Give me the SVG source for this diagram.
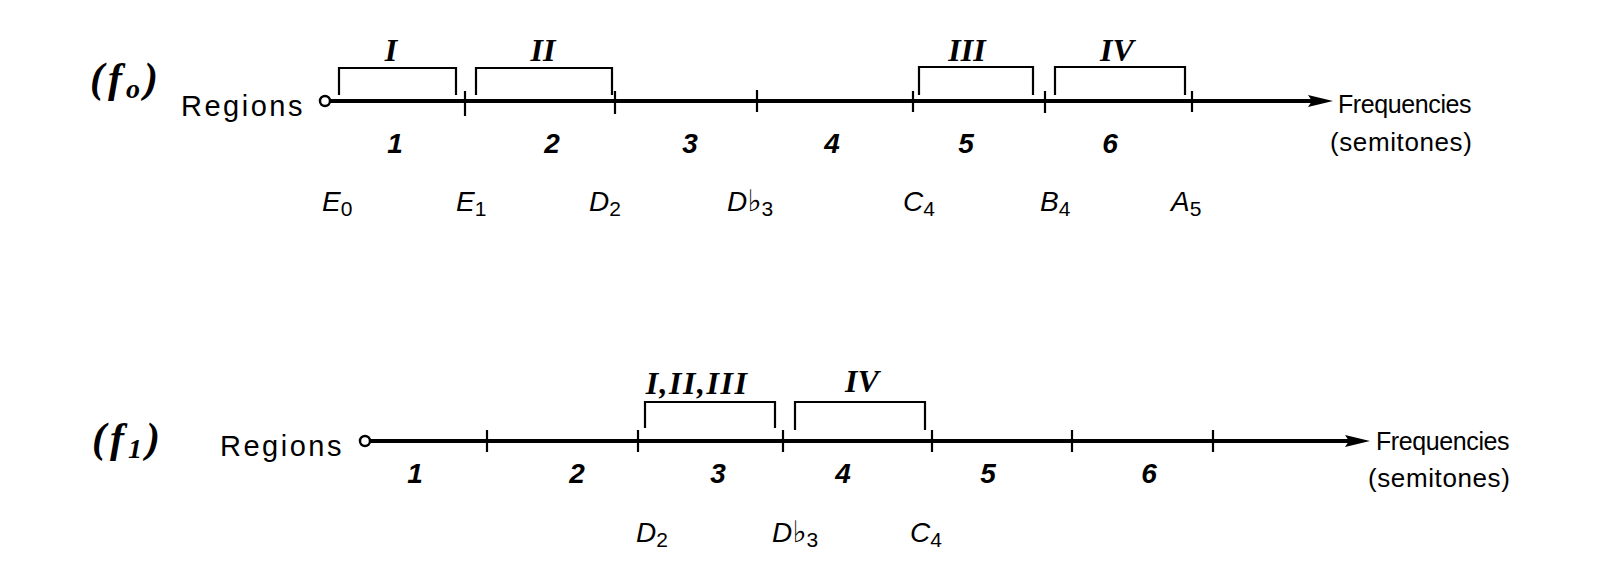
<svg xmlns="http://www.w3.org/2000/svg" width="1608" height="567" viewBox="0 0 1608 567">
<style>
.axis{stroke:#000;stroke-width:4;fill:none}
.tick{stroke:#000;stroke-width:2.2;fill:none}
.br{stroke:#000;stroke-width:2.2;fill:none}
.lbl{font-family:"Liberation Sans",Arial,sans-serif;font-size:29px;fill:#000;letter-spacing:2.5px}
.freq{font-family:"Liberation Sans",Arial,sans-serif;font-size:25px;fill:#000;letter-spacing:-0.4px}
.semi{font-family:"Liberation Sans",Arial,sans-serif;font-size:26px;fill:#000;letter-spacing:0.6px}
.num{font-family:"Liberation Sans",Arial,sans-serif;font-size:28px;font-weight:bold;font-style:italic;fill:#000;text-anchor:middle}
.rom{font-family:"Liberation Serif","Times New Roman",serif;font-size:32px;font-weight:bold;font-style:italic;fill:#000;text-anchor:middle}
.note{font-family:"Liberation Sans",Arial,sans-serif;font-size:28px;font-style:italic;fill:#000}
.sub{font-size:21px;font-style:normal}
.flat{font-family:"DejaVu Sans",sans-serif;font-size:30px;font-style:normal}
.fn{font-family:"Liberation Serif","Times New Roman",serif;font-size:42px;font-weight:bold;font-style:italic;fill:#000;letter-spacing:4px}
.fsub{font-size:28px}
.dot{fill:#fff;stroke:#000;stroke-width:2.5}
.head{fill:#000}
</style>
<rect width="1608" height="567" fill="#fff"/>

<g id="connectors">
  <g id="axis-f0">
    <line class="axis" x1="330" y1="101" x2="1312" y2="101"/>
    <polygon class="head" points="1308,95 1333,101 1308,107 1312,101"/>
    <line class="tick" x1="465" y1="91" x2="465" y2="116"/>
    <line class="tick" x1="615" y1="91" x2="615" y2="114"/>
    <line class="tick" x1="757" y1="90" x2="757" y2="112"/>
    <line class="tick" x1="913" y1="91" x2="913" y2="112"/>
    <line class="tick" x1="1045" y1="91" x2="1045" y2="113"/>
    <line class="tick" x1="1192" y1="91" x2="1192" y2="112"/>
  </g>
  <g id="axis-f1">
    <line class="axis" x1="370" y1="441" x2="1349" y2="441"/>
    <polygon class="head" points="1345,435 1370,441 1345,447 1349,441"/>
    <line class="tick" x1="487" y1="430" x2="487" y2="452"/>
    <line class="tick" x1="638" y1="430" x2="638" y2="452"/>
    <line class="tick" x1="783" y1="430" x2="783" y2="452"/>
    <line class="tick" x1="932" y1="430" x2="932" y2="452"/>
    <line class="tick" x1="1072" y1="430" x2="1072" y2="452"/>
    <line class="tick" x1="1213" y1="430" x2="1213" y2="452"/>
  </g>
</g>

<g id="f0-label"><text class="fn" x="90" y="92">(f<tspan class="fsub" dy="6">o</tspan><tspan dy="-6">)</tspan></text></g>
<g id="f0-regions"><text class="lbl" x="181" y="116">Regions</text><circle class="dot" cx="325" cy="101" r="5"/></g>
<g id="f0-freq"><text class="freq" x="1338" y="113">Frequencies</text><text class="semi" x="1330" y="151">(semitones)</text></g>

<g id="f0-bracket-I"><path class="br" d="M339,95 V68 H456 V95"/><text class="rom" x="391" y="61">I</text></g>
<g id="f0-bracket-II"><path class="br" d="M476,95 V68 H612 V95"/><text class="rom" x="543" y="61">II</text></g>
<g id="f0-bracket-III"><path class="br" d="M919,95 V67 H1033 V95"/><text class="rom" x="967" y="61">III</text></g>
<g id="f0-bracket-IV"><path class="br" d="M1055,95 V67 H1185 V95"/><text class="rom" x="1117" y="61">IV</text></g>

<g id="f0-regions-nums">
  <text class="num" x="395" y="153">1</text>
  <text class="num" x="552" y="153">2</text>
  <text class="num" x="690" y="153">3</text>
  <text class="num" x="832" y="153">4</text>
  <text class="num" x="966" y="153">5</text>
  <text class="num" x="1110" y="153">6</text>
</g>
<g id="f0-notes">
  <text class="note" x="322" y="211">E<tspan class="sub" dy="5">0</tspan></text>
  <text class="note" x="456" y="211">E<tspan class="sub" dy="5">1</tspan></text>
  <text class="note" x="589" y="211">D<tspan class="sub" dy="5">2</tspan></text>
  <text class="note" x="727" y="211">D<tspan class="flat">♭</tspan><tspan class="sub" dy="5">3</tspan></text>
  <text class="note" x="903" y="211">C<tspan class="sub" dy="5">4</tspan></text>
  <text class="note" x="1040" y="211">B<tspan class="sub" dy="5">4</tspan></text>
  <text class="note" x="1171" y="211">A<tspan class="sub" dy="5">5</tspan></text>
</g>

<g id="f1-label"><text class="fn" x="92" y="452">(f<tspan class="fsub" dy="6">1</tspan><tspan dy="-6">)</tspan></text></g>
<g id="f1-regions"><text class="lbl" x="220" y="456">Regions</text><circle class="dot" cx="365" cy="441" r="5"/></g>
<g id="f1-freq"><text class="freq" x="1376" y="450">Frequencies</text><text class="semi" x="1368" y="487">(semitones)</text></g>

<g id="f1-bracket-I-II-III"><path class="br" d="M645,428 V402 H775 V428"/><text class="rom" x="697" y="394" style="letter-spacing:1.5px">I,II,III</text></g>
<g id="f1-bracket-IV"><path class="br" d="M795,430 V402 H925 V430"/><text class="rom" x="862" y="392">IV</text></g>

<g id="f1-regions-nums">
  <text class="num" x="415" y="483">1</text>
  <text class="num" x="577" y="483">2</text>
  <text class="num" x="718" y="483">3</text>
  <text class="num" x="843" y="483">4</text>
  <text class="num" x="988" y="483">5</text>
  <text class="num" x="1149" y="483">6</text>
</g>
<g id="f1-notes">
  <text class="note" x="636" y="542">D<tspan class="sub" dy="5">2</tspan></text>
  <text class="note" x="772" y="542">D<tspan class="flat">♭</tspan><tspan class="sub" dy="5">3</tspan></text>
  <text class="note" x="910" y="542">C<tspan class="sub" dy="5">4</tspan></text>
</g>
</svg>
